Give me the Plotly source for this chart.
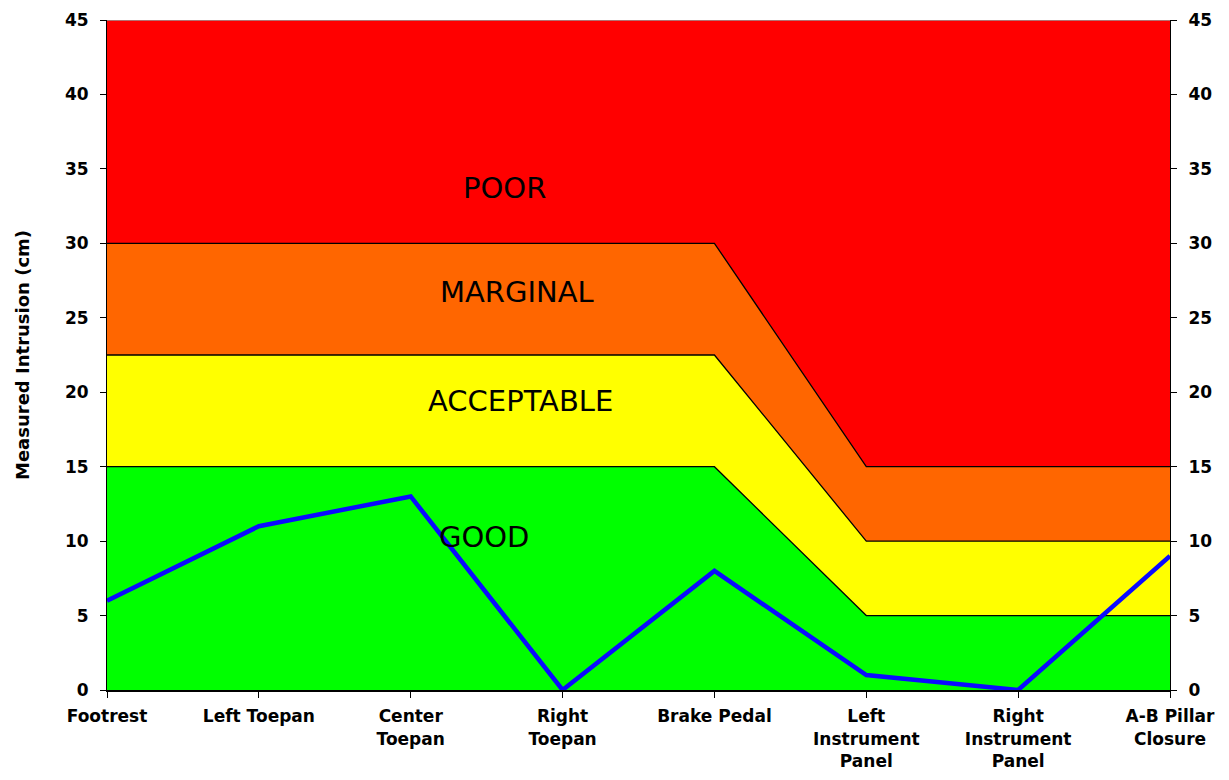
import plotly.graph_objects as go

categories = ["Footrest", "Left Toepan", "Center<br>Toepan", "Right<br>Toepan", "Brake Pedal",
              "Left<br>Instrument<br>Panel", "Right<br>Instrument<br>Panel", "A-B Pillar<br>Closure"]
intrusion = [6, 11, 13, 0, 8, 1, 0, 9]
good_upper = [15, 15, 15, 15, 15, 5, 5, 5]
acceptable_upper = [22.5, 22.5, 22.5, 22.5, 22.5, 10, 10, 10]
marginal_upper = [30, 30, 30, 30, 30, 15, 15, 15]
poor_upper = [45] * 8
band_names = ["GOOD", "ACCEPTABLE", "MARGINAL", "POOR"]
band_colors = ["#00FF00", "#FFFF00", "#FF6600", "#FF0000"]

x = list(range(len(categories)))
fig = go.Figure()
fig.add_trace(go.Scatter(x=x, y=[0] * 8, mode="lines", line=dict(width=0), showlegend=False, hoverinfo="skip"))
for uppers, name, col in zip([good_upper, acceptable_upper, marginal_upper, poor_upper], band_names, band_colors):
    fig.add_trace(go.Scatter(x=x, y=uppers, mode="lines", fill="tonexty", fillcolor=col,
                             line=dict(color="black" if name != "POOR" else "#999999",
                                       width=1.3 if name != "POOR" else 1.5),
                             name=name, showlegend=False))
fig.add_trace(go.Scatter(x=x, y=intrusion, mode="lines", line=dict(color="#0A0AFF", width=4.5),
                         showlegend=False))
fig.add_trace(go.Scatter(x=x, y=intrusion, yaxis="y2", mode="lines", line=dict(width=0),
                         showlegend=False, hoverinfo="skip"))

label_pos = {"POOR": (2.62, 33.7), "MARGINAL": (2.7, 26.7), "ACCEPTABLE": (2.72, 19.4), "GOOD": (2.48, 10.3)}
for name, (lx, ly) in label_pos.items():
    fig.add_annotation(x=lx, y=ly, text=name, showarrow=False,
                       font=dict(family="DejaVu Sans", size=29, color="black"))

tickfont = dict(family="DejaVu Sans", size=17, color="black", weight="bold")
yticks = list(range(0, 50, 5))
fig.update_layout(
    width=1221, height=772,
    margin=dict(l=99, r=59, t=12, b=90),
    plot_bgcolor="white", paper_bgcolor="white",
    xaxis=dict(range=[0, 7], tickvals=x, ticktext=categories, tickfont=tickfont, automargin=False,
               showgrid=False, zeroline=False, ticks="outside", ticklen=6, tickcolor="black",
               showline=True, linecolor="black", linewidth=2, tickangle=0, ticklabelstandoff=4),
    yaxis=dict(range=[0, 45], tickvals=yticks, tickfont=tickfont, showgrid=False, zeroline=False,
               ticks="outside", ticklen=6, tickcolor="black", showline=True, linecolor="black",
               linewidth=1, automargin=False, ticklabelstandoff=8,
               title=dict(text="Measured Intrusion (cm)", font=dict(family="DejaVu Sans", size=18,
                                                                    color="black", weight="bold"),
                          standoff=30)),
    yaxis2=dict(range=[0, 45], tickvals=yticks, tickfont=tickfont, overlaying="y", side="right",
                showgrid=False, zeroline=False, ticks="outside", ticklen=6, tickcolor="black",
                showline=True, linecolor="black", linewidth=1, automargin=False, ticklabelstandoff=8),
)
fig.write_html("out.html")
